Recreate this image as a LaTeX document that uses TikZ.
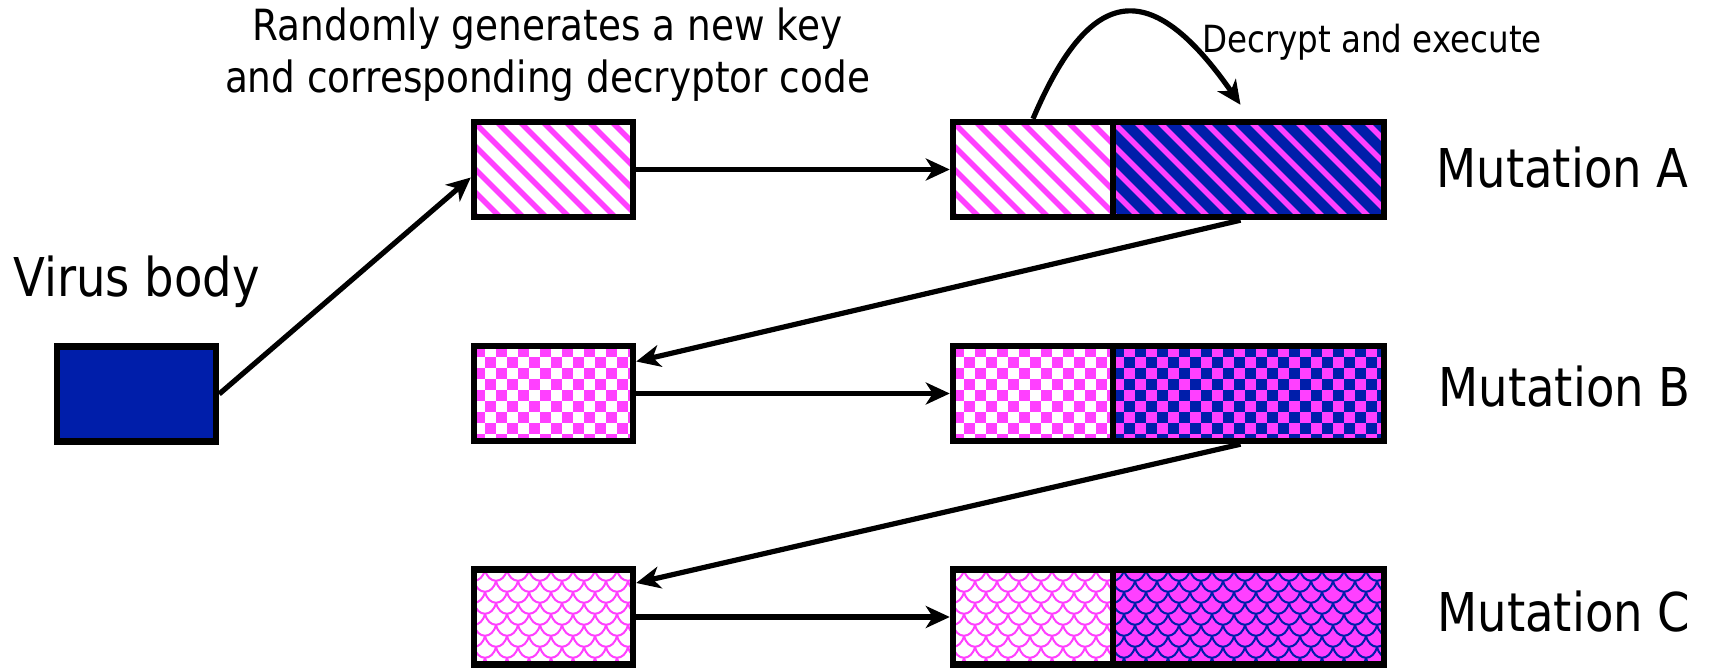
\documentclass[tikz,border=0pt]{standalone}
\usepackage{fontspec}
\setmainfont{DejaVu Sans}[FakeStretch=0.87]
\usetikzlibrary{arrows.meta,calc}
\definecolor{mag}{RGB}{255,64,255}
\definecolor{vblue}{RGB}{0,30,170}
\newcommand\patstripes[1]{%
    \foreach \k in {-115,-92,...,290}{\draw[#1,line width=2.8pt] (\k,0) -- ++(130,130);}}
\newcommand\patcheck[1]{%
    \foreach \j in {0,22,...,110}{\foreach \i in {0,22,...,286}{
      \fill[#1] (\i,\j) rectangle ++(11,11);
      \fill[#1] (\i+11,\j+11) rectangle ++(11,11);}}}
\newcommand\patscale[1]{%
    \foreach \j in {-11,11,...,110}{\foreach \i in {-22,0,...,286}{
      \draw[#1,line width=1pt] (\i,\j) .. controls +(3,15) and +(-3,15) .. ++(22,0);
      \draw[#1,line width=1pt] (\i+11,\j+11) .. controls +(3,15) and +(-3,15) .. ++(22,0);}}}
% #1 x, #2 y (north west), #3 w, #4 h, #5 background, #6 pattern macro, #7 pattern colour
\newcommand\patfill[7]{%
  \begin{scope}
    \clip (#1,#2) rectangle ++(#3,#4);
    \fill[#5] (#1,#2) rectangle ++(#3,#4);
    \begin{scope}[shift={(#1,#2)}]
      #6{#7}
    \end{scope}
  \end{scope}}
\tikzset{
  box/.style={draw=black,line width=3.2pt,inner sep=0pt,minimum height=47.5pt},
  keyw/.style={box,minimum width=79.5pt},
  lpart/.style={box,minimum width=80pt},
  rpart/.style={box,minimum width=135.5pt},
  arr/.style={line width=2.6pt,-{Stealth[length=12pt,width=11pt,inset=3.5pt]}},
  lbl/.style={font=\fontsize{26.75}{30}\selectfont,inner sep=0pt},
  note/.style={font=\fontsize{21.5}{25}\selectfont,inner sep=0pt},
  snote/.style={font=\fontsize{18.7}{21}\selectfont,inner sep=0pt}
}
\begin{document}
\begin{tikzpicture}[x=0.5pt,y=-0.5pt]
\useasboundingbox (0,0) rectangle (1710,668);
% fills and patterns
\patfill{474}{122}{159}{95}{white}{\patstripes}{mag}
\patfill{953}{122}{160}{95}{white}{\patstripes}{mag}
\patfill{1113}{122}{271}{95}{vblue}{\patstripes}{mag}
\patfill{474}{346}{159}{95}{white}{\patcheck}{mag}
\patfill{953}{346}{160}{95}{white}{\patcheck}{mag}
\patfill{1113}{346}{271}{95}{mag}{\patcheck}{vblue}
\patfill{474}{569.5}{159}{95}{white}{\patscale}{mag}
\patfill{953}{569.5}{160}{95}{white}{\patscale}{mag}
\patfill{1113}{569.5}{271}{95}{mag}{\patscale}{vblue}
% boxes
\node[box,minimum width=79.5pt,fill=vblue] (V) at (136.5,394) {};
\node[keyw] (KA) at (553.5,169.5) {};
\node[lpart] (MAk) at (1033,169.5) {};
\node[rpart] (MAb) at (1248.5,169.5) {};
\node[keyw] (KB) at (553.5,393.5) {};
\node[lpart] (MBk) at (1033,393.5) {};
\node[rpart] (MBb) at (1248.5,393.5) {};
\node[keyw] (KC) at (553.5,617) {};
\node[lpart] (MCk) at (1033,617) {};
\node[rpart] (MCb) at (1248.5,617) {};
% labels
\node[lbl,anchor=base] (tv) at (136.5,297) {Virus body};
\node[lbl,anchor=base west] (tA) at (1436,188) {Mutation A};
\node[lbl,anchor=base west] (tB) at (1438,407) {Mutation B};
\node[lbl,anchor=base west] (tC) at (1437,631) {Mutation C};
\node[note,anchor=base] (t1) at (547.5,41) {Randomly generates a new key};
\node[note,anchor=base] (t2) at (547.5,93) {and corresponding decryptor code};
\node[snote,anchor=base] (t3) at (1372,53) {Decrypt and execute};
% arrows
\draw[arr] (V.east) -- ($(KA.west)+(0,8)$);
\draw[arr] (KA.east) -- (MAk.west);
\draw[arr] ($(MAb.south)+(-8,0)$) -- ($(KB.east)+(0,-32)$);
\draw[arr] (KB.east) -- (MBk.west);
\draw[arr] ($(MBb.south)+(-8,0)$) -- ($(KC.east)+(0,-34)$);
\draw[arr] (KC.east) -- (MCk.west);
\coordinate (dtip) at ($(MAb.north)+(-8,-14)$);
\draw[arr] (MAk.north) .. controls (1090,-15) and (1150,-25) .. (dtip);
\end{tikzpicture}
\end{document}
